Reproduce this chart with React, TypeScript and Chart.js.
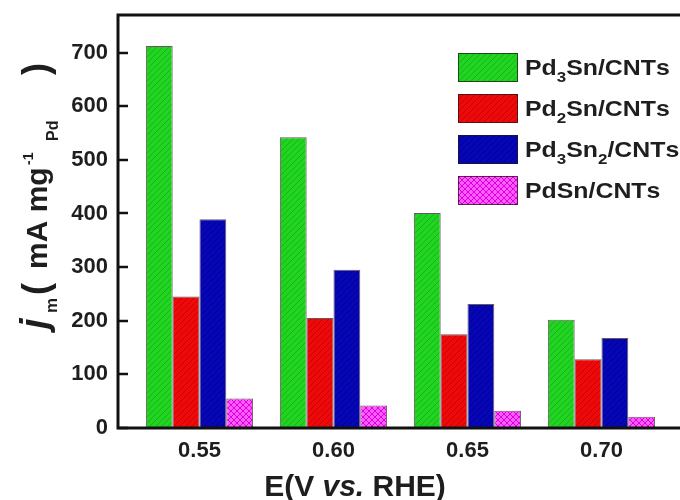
import React, { useEffect, useRef } from "react";
import { Chart, registerables } from "chart.js";

Chart.register(...registerables);

// ---- data ----
const potentials = [0.55, 0.6, 0.65, 0.7];
const seriesNames = ["Pd₃Sn/CNTs", "Pd₂Sn/CNTs", "Pd₃Sn₂/CNTs", "PdSn/CNTs"];
const pd3snValues = [712, 542, 401, 202];
const pd2snValues = [245, 205, 175, 128];
const pd3sn2Values = [389, 295, 231, 168];
const pdsnValues = [55, 42, 32, 21];
const yTickValues = [0, 100, 200, 300, 400, 500, 600, 700];
const yMax = 770;
const xMin = 0.5196;
const xMax = 0.7293;

const FONT = "'Liberation Sans', Arial, sans-serif";
const TEXT = "#1e1e1e";

function makePattern(base: string, line: string, kind: "diag" | "cross") {
  const c = document.createElement("canvas");
  const s = 6;
  c.width = s;
  c.height = s;
  const g = c.getContext("2d")!;
  g.fillStyle = base;
  g.fillRect(0, 0, s, s);
  g.strokeStyle = line;
  g.lineWidth = 1;
  g.beginPath();
  g.moveTo(-1, s + 1);
  g.lineTo(s + 1, -1);
  g.moveTo(-1, 1);
  g.lineTo(1, -1);
  g.moveTo(s - 1, s + 1);
  g.lineTo(s + 1, s - 1);
  if (kind === "cross") {
    g.moveTo(-1, -1);
    g.lineTo(s + 1, s + 1);
    g.moveTo(s - 1, -1);
    g.lineTo(s + 1, 1);
    g.moveTo(-1, s - 1);
    g.lineTo(1, s + 1);
  }
  g.stroke();
  return g.createPattern(c, "repeat")!;
}

const SUBS: Record<string, string> = {
  "₀": "0", "₁": "1", "₂": "2", "₃": "3", "₄": "4",
  "₅": "5", "₆": "6", "₇": "7", "₈": "8", "₉": "9",
};

function drawRich(ctx: CanvasRenderingContext2D, text: string, x: number, y: number, size: number, stretch: number) {
  ctx.save();
  ctx.translate(x, y);
  ctx.scale(stretch, 1);
  let cx = 0;
  for (const ch of text) {
    if (SUBS[ch]) {
      const s = Math.round(size * 0.66);
      ctx.font = `bold ${s}px ${FONT}`;
      ctx.fillText(SUBS[ch], cx, size * 0.34);
      cx += ctx.measureText(SUBS[ch]).width;
    } else {
      ctx.font = `bold ${size}px ${FONT}`;
      ctx.fillText(ch, cx, 0);
      cx += ctx.measureText(ch).width;
    }
  }
  ctx.restore();
}

type Seg = { t: string; font: string; s: number; dy?: number };

const decorPlugin = {
  id: "decor",
  afterDraw(chart: any) {
    const ctx: CanvasRenderingContext2D = chart.ctx;
    const area = chart.chartArea;
    const ys = chart.scales.y;
    ctx.save();
    // frame
    ctx.strokeStyle = "#111";
    ctx.lineWidth = 3;
    ctx.beginPath();
    ctx.moveTo(area.right + 2, area.top);
    ctx.lineTo(area.left, area.top);
    ctx.lineTo(area.left, area.bottom);
    ctx.lineTo(area.right + 2, area.bottom);
    ctx.stroke();
    // inward y ticks
    ctx.lineWidth = 2.5;
    ctx.beginPath();
    for (const v of yTickValues) {
      const py = Math.round(ys.getPixelForValue(v));
      ctx.moveTo(area.left, py);
      ctx.lineTo(area.left + 10, py);
    }
    ctx.stroke();

    // legend
    ctx.textBaseline = "alphabetic";
    ctx.textAlign = "left";
    chart.data.datasets.forEach((ds: any, i: number) => {
      const top = 53 + i * 41;
      ctx.fillStyle = ds.backgroundColor;
      ctx.fillRect(458, top, 60, 29);
      ctx.strokeStyle = "rgba(40,20,20,0.75)";
      ctx.lineWidth = 1;
      ctx.strokeRect(458.5, top + 0.5, 59, 28);
      ctx.fillStyle = TEXT;
      drawRich(ctx, ds.label, 525, top + 22, 22, 1.13);
    });

    // y axis title
    ctx.save();
    ctx.translate(47, 331);
    ctx.rotate(-Math.PI / 2);
    ctx.fillStyle = TEXT;
    const ySegs: Seg[] = [
      { t: "j", font: `italic bold 38px ${FONT}`, s: 2 },
      { t: "m", font: `bold 17px ${FONT}`, s: 18, dy: 10 },
      { t: "(", font: `bold 36px ${FONT}`, s: 36, dy: 1 },
      { t: "mA mg", font: `bold 30px ${FONT}`, s: 62 },
      { t: "-1", font: `bold 14px ${FONT}`, s: 166, dy: -14 },
      { t: "Pd", font: `bold 16px ${FONT}`, s: 190, dy: 11 },
      { t: ")", font: `bold 36px ${FONT}`, s: 256, dy: 1 },
    ];
    for (const sg of ySegs) {
      ctx.font = sg.font;
      ctx.fillText(sg.t, sg.s, sg.dy || 0);
    }
    ctx.restore();

    // x axis title
    const segs = [
      { t: "E(V ", font: `bold 30px ${FONT}` },
      { t: "vs.", font: `italic bold 30px ${FONT}` },
      { t: " RHE)", font: `bold 30px ${FONT}` },
    ];
    let w = 0;
    for (const s of segs) {
      ctx.font = s.font;
      w += ctx.measureText(s.t).width;
    }
    ctx.fillStyle = TEXT;
    let cx = 355 - w / 2;
    for (const s of segs) {
      ctx.font = s.font;
      ctx.fillText(s.t, cx, 496);
      cx += ctx.measureText(s.t).width;
    }
    ctx.restore();
  },
};

export default function App() {
  const ref = useRef<HTMLCanvasElement | null>(null);
  useEffect(() => {
    if (!ref.current) return;
    const green = makePattern("#22d422", "#17b517", "diag");
    const red = makePattern("#ee0a0a", "#cc0000", "diag");
    const blue = makePattern("#0606b4", "#00009c", "diag");
    const magenta = makePattern("#ff5cff", "#dc00dc", "cross");
    const fills = [green, red, blue, magenta];
    const series = [pd3snValues, pd2snValues, pd3sn2Values, pdsnValues];
    const chart = new Chart(ref.current, {
      type: "bar",
      data: {
        datasets: series.map((vals, i) => ({
          label: seriesNames[i],
          data: potentials.map((x, j) => ({ x, y: vals[j] })),
          backgroundColor: fills[i] as any,
          borderColor: "rgba(40,20,20,0.7)",
          borderWidth: 1,
          categoryPercentage: 0.8,
          barPercentage: 1.0,
        })),
      },
      options: {
        animation: false,
        responsive: true,
        maintainAspectRatio: false,
        layout: { padding: { top: 15, left: 0, right: 0, bottom: 0 } },
        plugins: { legend: { display: false }, tooltip: { enabled: false } },
        scales: {
          x: {
            type: "linear",
            offset: false,
            min: xMin,
            max: xMax,
            grid: { display: false, drawTicks: false, offset: false },
            border: { display: false },
            afterBuildTicks: (s: any) => {
              s.ticks = potentials.map((v) => ({ value: v }));
            },
            afterFit: (s: any) => {
              s.height = 72;
              s.paddingLeft = 0;
              s.paddingRight = 0;
            },
            ticks: {
              padding: 10,
              color: TEXT,
              font: { family: FONT, size: 22, weight: "bold" },
              callback: (v: any) => Number(v).toFixed(2),
            },
          },
          y: {
            min: 0,
            max: yMax,
            grid: { display: false, drawTicks: false },
            border: { display: false },
            afterBuildTicks: (s: any) => {
              s.ticks = yTickValues.map((v) => ({ value: v }));
            },
            afterFit: (s: any) => {
              s.width = 118;
              s.paddingTop = 0;
              s.paddingBottom = 0;
            },
            ticks: {
              padding: 10,
              color: TEXT,
              font: { family: FONT, size: 22, weight: "bold" },
              callback: (v: any) => String(v),
            },
          },
        },
      },
      plugins: [decorPlugin],
    });
    return () => chart.destroy();
  }, []);
  return (
    <div style={{ position: "absolute", left: 0, top: 0, width: 680, height: 500, background: "#fff" }}>
      <canvas ref={ref} />
    </div>
  );
}
